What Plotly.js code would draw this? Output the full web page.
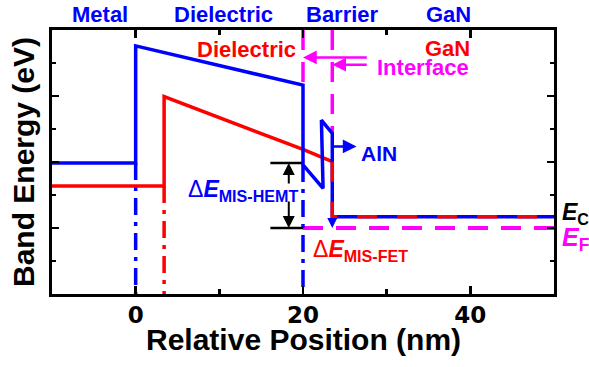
<!DOCTYPE html>
<html>
<head>
<meta charset="utf-8">
<script src="https://cdn.plot.ly/plotly-3.0.1.min.js"></script>
<style>html,body{margin:0;padding:0;background:#fff;}#chart{width:589px;height:367px;}</style>
</head>
<body>
<div id="chart"></div>
<script>
// ---- Data (relative position in nm, band energy in arbitrary eV units) ----
// MIS-HEMT conduction band (blue)
const blueX = [-10, 0, 0, 20, 20, 22.4, 22.2, 23.5, 23.5, 50];
const blueY = [3.97, 3.97, 7.52, 6.33, 3.91, 3.20, 5.27, 4.87, 2.34, 2.34];
// MIS-FET conduction band (red)
const redX = [-10, 3.4, 3.4, 20, 23.5];
const redY = [3.27, 3.27, 5.98, 4.38, 4.01];
const redGaNX = [23.5, 23.5, 50];
const redGaNY = [4.01, 2.34, 2.34];
// layer boundaries (dash-dot)
const blueMetalBoundX = [0, 0];       const blueMetalBoundY = [3.97, 0];
const redMetalBoundX = [3.4, 3.4];    const redMetalBoundY = [3.27, 0];
const blueBarrierBoundX = [20, 20];   const blueBarrierBoundY = [3.91, 0];
// interfaces (magenta dashed)
const interface1X = [20, 20];         const interface1Y = [8, 6.33];
const interface2X = [23.5, 23.5];     const interface2Y = [8, 4.87];
// Fermi level
const efX = [20, 50];                 const efY = [2.0, 2.0];
// Delta E MIS-HEMT reference lines
const hemtTopX = [16.1, 20];          const hemtTopY = [3.97, 3.97];
const hemtBotX = [16.1, 20];          const hemtBotY = [2.0, 2.0];

// arrows: [headX, headY, tailX, tailY]
const hemtArrows = [[18.3, 3.97, 18.3, 3.30], [18.3, 2.0, 18.3, 2.85]];
const interfaceArrows = [[20, 7.17, 27.8, 7.17], [23.5, 6.95, 27.8, 6.95]];
const alnArrow = [26.4, 4.47, 23.5, 4.47];
const fetArrow = [23.5, 2.0, 23.5, 2.34];

// region labels above the frame: [text, x]
const topLabels = [["Metal", -4.3], ["Dielectric", 10.5], ["Barrier", 24.7], ["GaN", 37.4]];
const xTicks = [0, 20, 40];

const BLUE = '#0000ff', RED = '#ff0000', MAG = '#ff00ff';
const ARIAL = 'Liberation Sans, Arial, sans-serif';
const dashDot = '17px,7px,4px,7px';

function line(x, y, color, width, dash) {
  return {x: x, y: y, type: 'scatter', mode: 'lines', hoverinfo: 'skip', showlegend: false,
          line: {color: color, width: width, dash: dash || 'solid'}};
}

const traces = [
  line(interface1X, interface1Y, MAG, 3.5, '20px,12px'),
  line(interface2X, interface2Y, MAG, 3.5, '20px,12px'),
  line(efX, efY, MAG, 4, '20px,13px'),
  line(blueMetalBoundX, blueMetalBoundY, BLUE, 3.5, dashDot),
  line(blueBarrierBoundX, blueBarrierBoundY, BLUE, 3.5, dashDot),
  line(redMetalBoundX, redMetalBoundY, RED, 3.5, dashDot),
  line(hemtTopX, hemtTopY, '#000', 2.5),
  line(hemtBotX, hemtBotY, '#000', 2.5),
  line(redX, redY, RED, 3.5),
  line(blueX, blueY, BLUE, 3.5),
  line(redGaNX, redGaNY, RED, 3.5, '20px,20px')
];

function arrow(a, color, width, size) {
  return {x: a[0], y: a[1], ax: a[2], ay: a[3], xref: 'x', yref: 'y', axref: 'x', ayref: 'y',
          text: '', showarrow: true, arrowhead: 2, arrowsize: size, arrowwidth: width,
          arrowcolor: color, standoff: 0, startstandoff: 0};
}
function label(text, x, y, color, size, extra) {
  return Object.assign({x: x, y: y, xref: 'x', yref: 'y', text: text, showarrow: false,
          xanchor: 'center', yanchor: 'middle',
          font: {family: ARIAL, size: size, color: color, weight: 'bold'}}, extra || {});
}

const annotations = [];
hemtArrows.forEach(a => annotations.push(arrow(a, '#000', 2, 1.2)));
interfaceArrows.forEach(a => annotations.push(arrow(a, MAG, 2.5, 1.1)));
annotations.push(arrow(alnArrow, BLUE, 2.5, 1.1));
annotations.push(arrow(fetArrow, BLUE, 2, 1));
topLabels.forEach(t => annotations.push(label(t[0], t[1], 1.057, BLUE, 22, {yref: 'paper'})));
annotations.push(label('Dielectric', 13.3, 7.42, RED, 22));
annotations.push(label('GaN', 37.3, 7.45, RED, 22));
annotations.push(label('Interface', 34.3, 6.85, MAG, 22));
annotations.push(label('AlN', 29.1, 4.27, BLUE, 21));
annotations.push(label('<span style="font-weight:normal">Δ</span><i>E</i><sub>MIS-HEMT</sub>', 12.8, 3.15, BLUE, 23));
annotations.push(label('<span style="font-weight:normal">Δ</span><i>E</i><sub>MIS-FET</sub>', 26.9, 1.33, RED, 23));
annotations.push(label('<i>E</i><sub>C</sub>', 1.012, 2.45, '#000', 23, {xref: 'paper', xanchor: 'left'}));
annotations.push(label('<i>E</i><sub>F</sub>', 1.012, 1.68, MAG, 25, {xref: 'paper', xanchor: 'left'}));
// x-axis title (placed as an annotation for exact vertical position)
annotations.push(label('Relative Position (nm)', 0.5, -0.174, '#000', 30, {xref: 'paper', yref: 'paper'}));

const layout = {
  width: 589, height: 367,
  margin: {l: 52, r: 35, t: 30, b: 73},
  paper_bgcolor: '#fff', plot_bgcolor: '#fff',
  showlegend: false,
  xaxis: {
    range: [-10, 50], tickvals: xTicks, ticktext: xTicks.map(String),
    ticks: 'inside', ticklen: 8, tickwidth: 2.5, tickcolor: '#000',
    minor: {dtick: 10, tick0: 0, ticks: 'inside', ticklen: 5, tickwidth: 2.5, tickcolor: '#000'},
    showline: true, linewidth: 3, linecolor: '#000', mirror: 'ticks',
    showgrid: false, zeroline: false, ticklabelstandoff: -2,
    tickfont: {family: 'DejaVu Sans', size: 23, color: '#000', weight: 'bold'}
  },
  yaxis: {
    range: [0, 8], dtick: 2, tick0: 0, showticklabels: false,
    ticks: 'inside', ticklen: 7, tickwidth: 2.5, tickcolor: '#000',
    minor: {dtick: 1, tick0: 0, ticks: 'inside', ticklen: 4, tickwidth: 2.5, tickcolor: '#000'},
    showline: true, linewidth: 3, linecolor: '#000', mirror: 'ticks',
    showgrid: false, zeroline: false,
    title: {text: 'Band Energy (eV)', standoff: 6,
            font: {family: ARIAL, size: 30, color: '#000', weight: 'bold'}}
  },
  annotations: annotations
};

Plotly.newPlot('chart', traces, layout, {displayModeBar: false, staticPlot: true});
</script>
</body>
</html>
